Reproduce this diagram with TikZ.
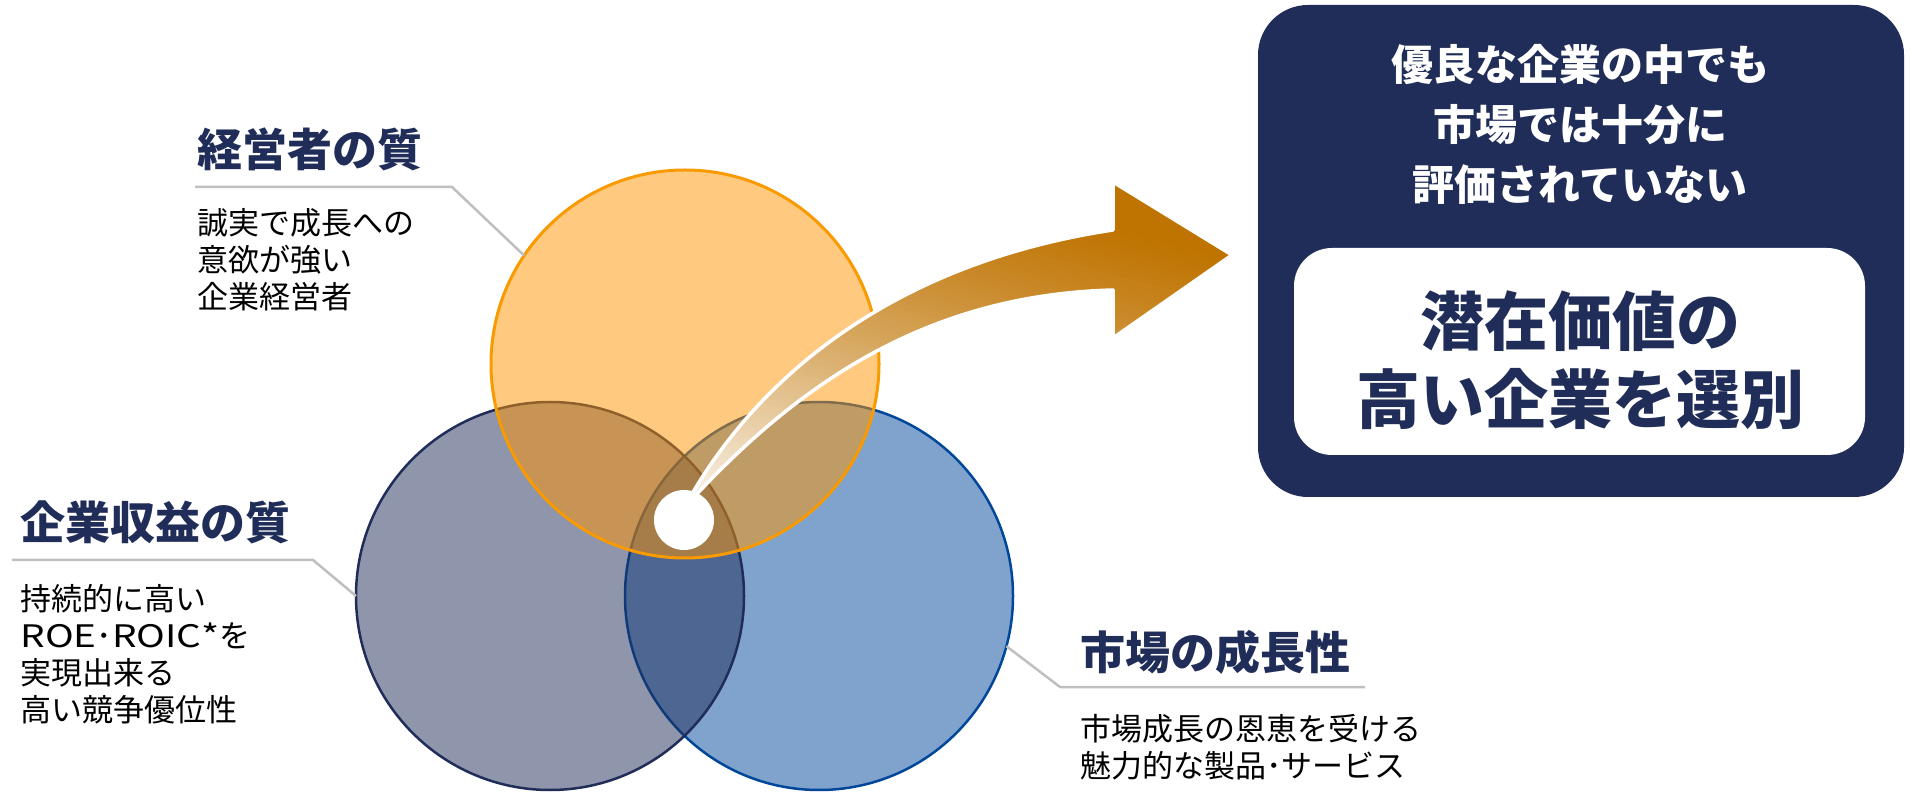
\documentclass[tikz,border=0pt]{standalone}
\usepackage{fontspec}
\newfontfamily\jp{Noto Sans CJK JP}
\newfontfamily\jpwide[FakeStretch=1.25]{Noto Sans CJK JP}
\definecolor{navy}{HTML}{1F2D58}
\definecolor{vblue}{HTML}{00479A}
\definecolor{vorange}{HTML}{FF9400}
\definecolor{vline}{HTML}{F89A00}
\definecolor{leadgray}{HTML}{BFBFBF}
\definecolor{arlight}{HTML}{FAF3EA}
\definecolor{ardark}{HTML}{BF7300}
\begin{document}
\begin{tikzpicture}[x=0.5pt,y=-0.5pt,
  venn/.style={circle, minimum size=194pt, inner sep=0pt, outer sep=0pt, fill opacity=0.5, draw opacity=1},
  leader/.style={draw=leadgray, line width=1.25pt},
  title/.style={anchor=north west, inner sep=0pt, text=navy, font=\jp\bfseries\fontsize{22.5pt}{27pt}\selectfont},
  body/.style={anchor=north west, inner sep=0pt, align=left, text=black, font=\jp\fontsize{15.5pt}{18.5pt}\selectfont},
  panelbox/.style={fill=navy, rounded corners=25pt, inner sep=0pt},
  keybox/.style={fill=white, rounded corners=19pt, inner sep=0pt}]
\useasboundingbox (0,0) rectangle (1910,795);

% Venn circles
\node[venn, fill=vblue, draw=vblue, line width=1.25pt] (blue) at (819,596) {};
\node[venn, fill=navy, draw=navy, line width=1.25pt] (gray) at (550,596) {};
\node[venn, fill=vorange, draw=vline, line width=1.5pt] (orange) at (685,364) {};

% curved arrow with gradient (bands along a 75 degree axis)
\begin{scope}
\clip (684,508) .. controls (758,372) and (900,262) .. (1113,230) -- (1113,182) -- (1232,255) -- (1113,338) -- (1113,290) .. controls (930,295) and (800,380) .. (684,508) -- cycle;
\fill[arlight] (600,100) rectangle (1300,560);
\foreach \i in {0,...,59}{
  \pgfmathsetmacro{\sa}{\i*6.3333}
  \pgfmathsetmacro{\sb}{\sa+7}
  \pgfmathsetmacro{\pct}{100*(1-(1-(\i+0.5)/60)^1.2)}
  \pgfmathsetmacro{\xa}{684+0.259*\sa}
  \pgfmathsetmacro{\ya}{500-0.966*\sa}
  \pgfmathsetmacro{\xb}{684+0.259*\sb}
  \pgfmathsetmacro{\yb}{500-0.966*\sb}
  \fill[ardark!\pct!arlight] ({\xa-966},{\ya-259}) -- ({\xa+966},{\ya+259}) -- ({\xb+966},{\yb+259}) -- ({\xb-966},{\yb-259}) -- cycle;
}
\fill[ardark] (-183.6,-126) -- (1748.4,392) -- (2007,-574) -- (75,-1092) -- cycle;
\end{scope}
\draw[white, line width=1.75pt, line join=round] (684,508) .. controls (758,372) and (900,262) .. (1113,230) -- (1113,182) -- (1232,255) -- (1113,338) -- (1113,290) .. controls (930,295) and (800,380) .. (684,508) -- cycle;

\node[circle, fill=white, minimum size=30pt, inner sep=0pt] (dot) at (684,520) {};

% leader lines
\coordinate (k1) at (452,187); \coordinate (e1) at (195,187);
\coordinate (k2) at (313,560); \coordinate (e2) at (12,560);
\coordinate (k3) at (1060,687); \coordinate (e3) at (1365,687);
\draw[leader] (orange.146) -- (k1) -- (e1);
\draw[leader] (gray.180) -- (k2) -- (e2);
\draw[leader] (blue.-15.5) -- (k3) -- (e3);

% labels
\node[title] (t1) at (197,127) {経営者の質};
\node[body] (b1) at (197,208) {誠実で成長への\\意欲が強い\\企業経営者};
\node[title] (t2) at (20,500) {企業収益の質};
\node[body] (b2) at (20,584) {持続的に高い\\{\jpwide ROE}･{\jpwide ROIC*}を\\実現出来る\\高い競争優位性};
\node[title] (t3) at (1080,630) {市場の成長性};
\node[body] (b3) at (1080,714) {市場成長の恩恵を受ける\\魅力的な製品･サービス};

% result panel
\node[panelbox, minimum width=323pt, minimum height=246pt] (panel) at (1581,251) {};
\node[keybox, minimum width=285.5pt, minimum height=103.5pt] (key) at (1579.5,351.5) {};
\node[anchor=north, inner sep=0pt, align=center, text=white, font=\jp\bfseries\fontsize{21pt}{30pt}\selectfont] (msg) at (1580,44) {優良な企業の中でも\\市場では十分に\\評価されていない};
\node[anchor=north, inner sep=0pt, align=center, text=navy, font=\jp\bfseries\fontsize{32pt}{39pt}\selectfont] (keytxt) at (1580,290) {潜在価値の\\高い企業を選別};
\end{tikzpicture}
\end{document}
